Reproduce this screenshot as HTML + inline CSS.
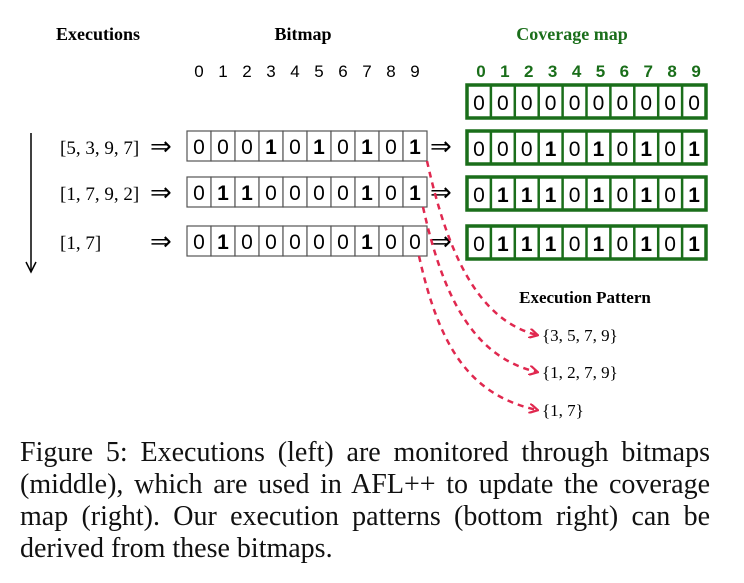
<!DOCTYPE html>
<html><head><meta charset="utf-8"><style>
body{margin:0;background:#fff;width:744px;height:583px;overflow:hidden;position:relative}
#cap{position:absolute;left:20px;top:437px;width:690px;font-family:"Liberation Serif",serif;font-size:28px;line-height:32px;text-align:justify;color:#111}
</style></head><body>
<svg width="744" height="435" style="position:absolute;left:0;top:0" xmlns="http://www.w3.org/2000/svg">
<defs><marker id="ah" markerWidth="10" markerHeight="10" refX="8" refY="5" orient="auto" markerUnits="userSpaceOnUse"><path d="M0,0 L9,5 L0,10" fill="none" stroke="#e0284f" stroke-width="2.2"/></marker></defs>
<g id="g"></g>
</svg>
<div id="cap">Figure 5: Executions (left) are monitored through bitmaps (middle), which are used in AFL++ to update the coverage map (right). Our execution patterns (bottom right) can be derived from these bitmaps.</div>
<script>
const execs=["[5, 3, 9, 7]","[1, 7, 9, 2]","[1, 7]"];
const bitmaps=[[0,0,0,1,0,1,0,1,0,1],[0,1,1,0,0,0,0,1,0,1],[0,1,0,0,0,0,0,1,0,0]];
const coverage=[[0,0,0,0,0,0,0,0,0,0],[0,0,0,1,0,1,0,1,0,1],[0,1,1,1,0,1,0,1,0,1],[0,1,1,1,0,1,0,1,0,1]];
const patterns=["{3, 5, 7, 9}","{1, 2, 7, 9}","{1, 7}"];
const g=document.getElementById('g');const NS="http://www.w3.org/2000/svg";
function el(t,a,txt){const e=document.createElementNS(NS,t);for(const k in a)e.setAttribute(k,a[k]);if(txt!=null)e.textContent=txt;g.appendChild(e);return e;}
const rowY=[131,177,226], covY=[85,131,177,226];
const bx=187,cw=24,cx=467,ccw=23.9;
let t;
t=el('text',{x:98,y:40,'text-anchor':'middle','font-family':'Liberation Serif,serif','font-weight':'bold','font-size':18},'Executions');

t=el('text',{x:303,y:40,'text-anchor':'middle','font-family':'Liberation Serif,serif','font-weight':'bold','font-size':18},'Bitmap');

t=el('text',{x:572,y:40,'text-anchor':'middle','font-family':'Liberation Serif,serif','font-weight':'bold','font-size':18,fill:'#1a6e1a'},'Coverage map');

for(let i=0;i<10;i++){
 t=el('text',{x:bx+cw*i+cw/2,y:77,'text-anchor':'middle','font-family':'Liberation Sans,sans-serif','font-size':17},String(i));
 
 t=el('text',{x:cx+ccw*i+ccw/2+2,y:77,'text-anchor':'middle','font-family':'Liberation Sans,sans-serif','font-weight':'bold','font-size':17,fill:'#1a6e1a'},String(i));
 
}
execs.forEach((s,r)=>{
 const y=rowY[r];
 t=el('text',{x:60,y:y+23,'font-family':'Liberation Serif,serif','font-size':19},s);
 
 t=el('text',{x:150,y:y+24,'font-family':'DejaVu Sans,sans-serif','font-size':26},'⇒');
 
 t=el('text',{x:430,y:y+24,'font-family':'DejaVu Sans,sans-serif','font-size':26},'⇒');
 
 bitmaps[r].forEach((b,i)=>{
  const c=el('rect',{x:bx+cw*i,y:y,width:cw,height:30,fill:'#fff',stroke:'#555','stroke-width':1.2});
  
  t=el('text',{x:bx+cw*i+cw/2,y:y+23,'text-anchor':'middle','font-family':'Liberation Sans,sans-serif','font-size':21,'font-weight':b?'bold':'normal'},String(b));
  
 });
});
coverage.forEach((row,r)=>{
 const y=covY[r];
 const o=el('rect',{x:cx,y:y,width:ccw*10,height:33,fill:'#fff',stroke:'#1a6e1a','stroke-width':3.5});
 
 row.forEach((b,i)=>{
  if(i>0){const l=el('line',{x1:cx+ccw*i,y1:y,x2:cx+ccw*i,y2:y+33,stroke:'#1a6e1a','stroke-width':2.5});
  }
  t=el('text',{x:cx+ccw*i+ccw/2,y:y+25,'text-anchor':'middle','font-family':'Liberation Sans,sans-serif','font-size':21,'font-weight':b?'bold':'normal'},String(b));
  
 });
});
let a=el('line',{x1:31,y1:133,x2:31,y2:270,stroke:'#000','stroke-width':1.5});

a=el('path',{d:'M26,262 L31,272 L36,262',fill:'none',stroke:'#000','stroke-width':1.5});

t=el('text',{x:585,y:303,'text-anchor':'middle','font-family':'Liberation Serif,serif','font-weight':'bold','font-size':17},'Execution Pattern');

const py=[335,372,410];
patterns.forEach((s,r)=>{
 t=el('text',{x:542,y:py[r]+6,'font-family':'Liberation Serif,serif','font-size':17},s);
 
 const sx=427-r*4, sy=rowY[r]+30;
 const p=el('path',{d:`M${sx},${sy} C${sx+20},${sy+90} ${sx+50},${py[r]-15} ${537},${py[r]}`,fill:'none',stroke:'#e0284f','stroke-width':2.5,'stroke-dasharray':'6,5','marker-end':'url(#ah)'});
 
});
</script>
</body></html>
